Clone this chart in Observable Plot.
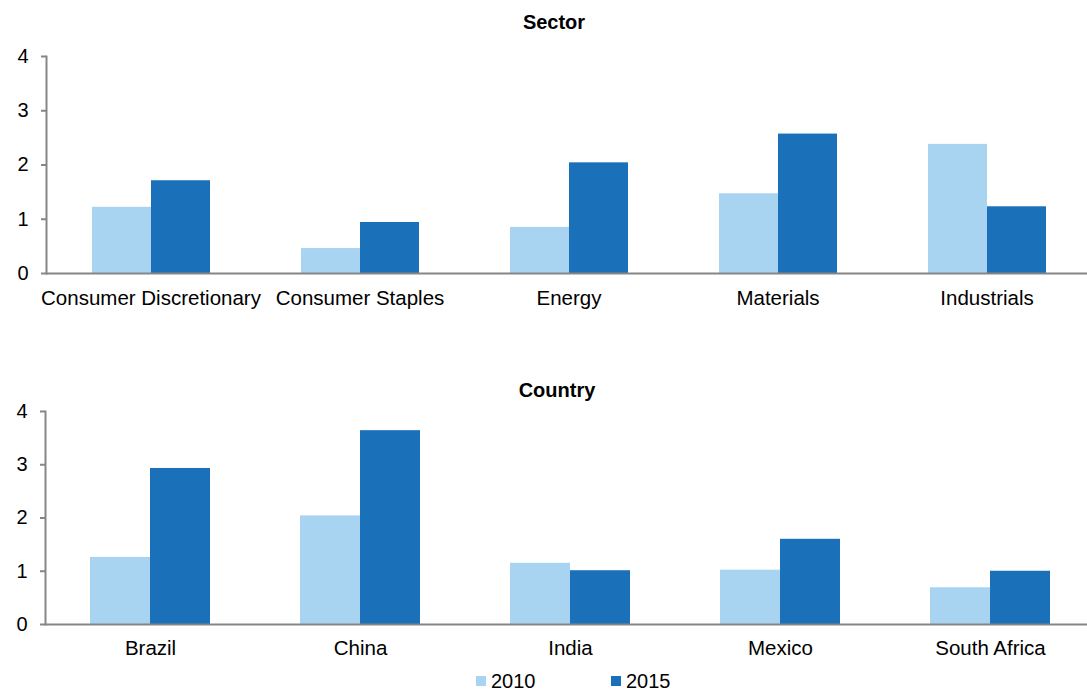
<!DOCTYPE html>
<html><head><meta charset="utf-8">
<script src="https://cdn.jsdelivr.net/npm/d3@7"></script>
<script src="https://cdn.jsdelivr.net/npm/@observablehq/plot@0.6"></script>
<style>
html,body{margin:0;background:#fff;font-family:"Liberation Sans",Arial,sans-serif;color:#000;overflow:hidden;}
#wrap{position:relative;width:1087px;height:691px;overflow:hidden;}
.title{position:absolute;font-weight:bold;font-size:20px;line-height:22px;white-space:nowrap;transform:translateX(-50%);}
.chart{position:absolute;left:0;max-width:none !important;}
.leg{position:absolute;font-size:20px;line-height:20px;display:flex;align-items:center;white-space:nowrap;}
.sw{display:inline-block;width:10px;height:10px;margin-right:5px;}
</style></head>
<body><div id="wrap"></div>
<script>
const years = ["2010", "2015"];
const sectors = ["Consumer Discretionary", "Consumer Staples", "Energy", "Materials", "Industrials"];
const sector2010 = [1.22, 0.46, 0.85, 1.47, 2.38];
const sector2015 = [1.71, 0.94, 2.04, 2.57, 1.23];
const countries = ["Brazil", "China", "India", "Mexico", "South Africa"];
const country2010 = [1.26, 2.04, 1.15, 1.02, 0.69];
const country2015 = [2.93, 3.64, 1.01, 1.60, 1.00];
const yTicks = [0, 1, 2, 3, 4];
const colors = ["#A8D4F2", "#1B71B9"];
const axisGray = "#868686";

function rows(cats, a, b) {
  const out = [];
  cats.forEach((c, i) => {
    out.push({cat: c, year: years[0], value: a[i]});
    out.push({cat: c, year: years[1], value: b[i]});
  });
  return out;
}

function chart(cats, data, innerH, pad, w, ml) {
  return Plot.plot({
    width: w,
    height: 16 + innerH + 44,
    marginTop: 16, marginBottom: 44, marginLeft: ml, marginRight: 0,
    style: {fontFamily: "Liberation Sans, Arial, sans-serif", fontSize: "20px", color: "#000", background: "transparent", maxWidth: "none"},
    fx: {domain: cats, padding: 0, label: null},
    x: {domain: years, paddingInner: 0, paddingOuter: 0.75, axis: null},
    y: {domain: [0, 4], label: null},
    color: {domain: years, range: colors},
    marks: [
      Plot.barY(data, {fx: "cat", x: "year", y: "value", fill: "year"}),
      Plot.ruleY([0], {stroke: axisGray, strokeWidth: 2}),
      Plot.frame({anchor: "left", facetAnchor: "left", stroke: axisGray, strokeWidth: 2}),
      Plot.axisY({ticks: yTicks, tickFormat: d3.format("d"), tickSize: 5, tickPadding: 13, stroke: axisGray, strokeWidth: 2, fill: "#000", fontSize: 20, label: null}),
      Plot.axisFx({anchor: "bottom", tickSize: 0, tickPadding: pad, fontSize: 20.5, fill: "#000", label: null})
    ]
  });
}

const wrap = document.getElementById("wrap");

const t1 = document.createElement("div");
t1.className = "title"; t1.textContent = "Sector";
t1.style.left = "554px"; t1.style.top = "11px";
wrap.appendChild(t1);

const c1 = chart(sectors, rows(sectors, sector2010, sector2015), 217, 17, 1093, 44);
c1.classList.add("chart"); c1.style.top = "40px";
wrap.appendChild(c1);

const t2 = document.createElement("div");
t2.className = "title"; t2.textContent = "Country";
t2.style.left = "557px"; t2.style.top = "379px";
wrap.appendChild(t2);

const c2 = chart(countries, rows(countries, country2010, country2015), 213, 16, 1097, 43);
c2.classList.add("chart"); c2.style.top = "395px";
wrap.appendChild(c2);

const legX = [476, 611];
years.forEach((y, i) => {
  const d = document.createElement("div");
  d.className = "leg";
  d.style.left = legX[i] + "px"; d.style.top = "671px";
  const s = document.createElement("span");
  s.className = "sw"; s.style.background = colors[i];
  d.appendChild(s);
  d.appendChild(document.createTextNode(y));
  wrap.appendChild(d);
});
</script>
</body></html>
